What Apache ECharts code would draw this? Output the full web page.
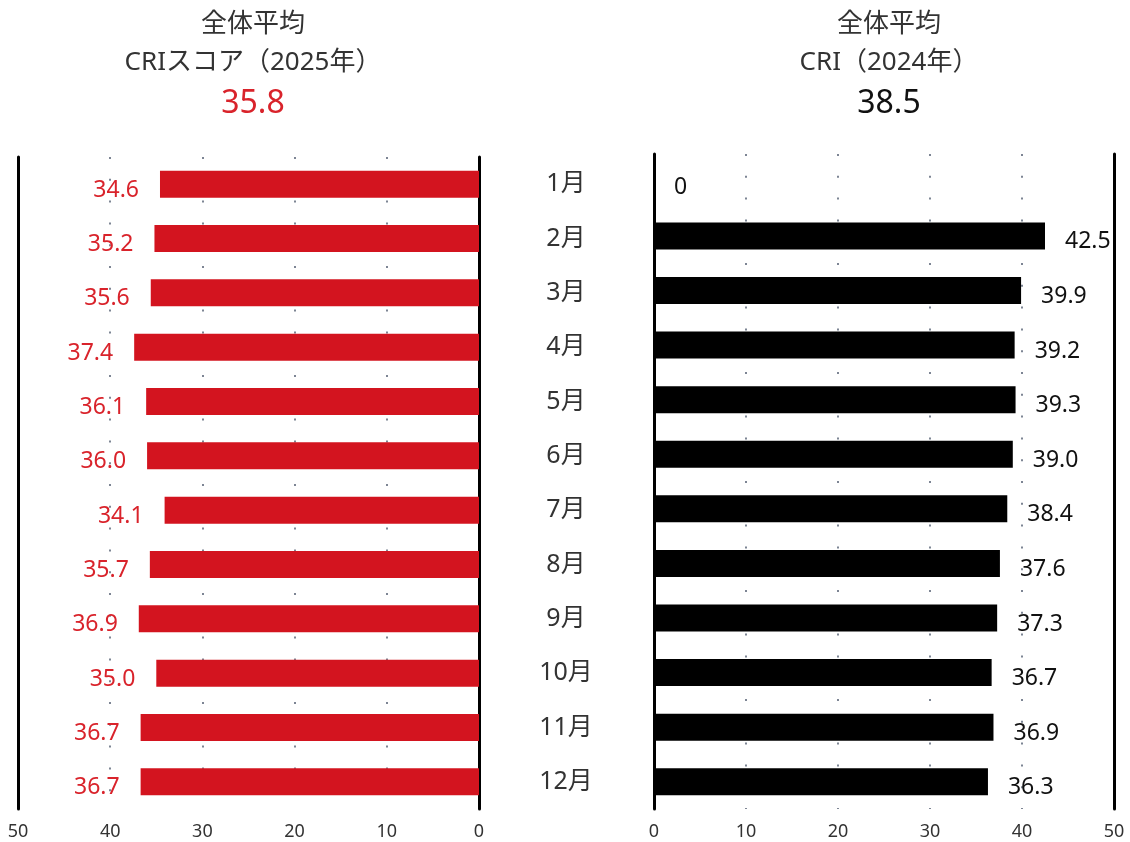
<!DOCTYPE html>
<html>
<head>
<meta charset="utf-8">
<script src="https://cdn.jsdelivr.net/npm/echarts@6/dist/echarts.min.js"></script>
<style>
  html, body { margin: 0; padding: 0; background: #fff; }
  #chart { width: 1130px; height: 842px; }
</style>
</head>
<body>
<div id="chart"></div>
<script>
  // データ
  var months = ['1月', '2月', '3月', '4月', '5月', '6月', '7月', '8月', '9月', '10月', '11月', '12月']
  var cri2025 = [34.6, 35.2, 35.6, 37.4, 36.1, 36.0, 34.1, 35.7, 36.9, 35.0, 36.7, 36.7]
  var cri2024 = [0, 42.5, 39.9, 39.2, 39.3, 39.0, 38.4, 37.6, 37.3, 36.7, 36.9, 36.3]
  var avg2025 = '35.8'
  var avg2024 = '38.5'
  var xTicks = [0, 10, 20, 30, 40, 50]

  var font = '"Noto Sans", "Noto Sans CJK JP", sans-serif'
  var red = '#d3141f'
  var redText = '#d9232b'

  var chart = echarts.init(document.getElementById('chart'))

  function valueAxis (idx, inverse) {
    return {
      type: 'value',
      gridIndex: idx,
      min: xTicks[0],
      max: xTicks[xTicks.length - 1],
      interval: 10,
      inverse: inverse,
      axisLine: { show: false },
      axisTick: { show: false },
      axisLabel: { fontSize: 18, color: '#333', margin: 14, fontFamily: font },
      splitLine: {
        show: true,
        lineStyle: { color: '#7d8594', width: 2, type: [2, 19.8] }
      }
    }
  }

  function edgeAxis (idx, pos, showLabel) {
    return {
      type: 'category',
      gridIndex: idx,
      position: pos,
      inverse: true,
      data: months,
      axisLine: { show: true, onZero: false, lineStyle: { color: '#000', width: 3 } },
      axisTick: { show: false },
      axisLabel: showLabel
        ? { show: true, align: 'center', margin: 87, fontSize: 25, color: '#333', fontFamily: font }
        : { show: false },
      splitLine: { show: false }
    }
  }

  chart.setOption({
    animation: false,
    textStyle: { fontFamily: font },
    title: [
      {
        text: '全体平均\nCRIスコア（2025年）',
        left: 248, top: 1, textAlign: 'center',
        textStyle: { fontSize: 26, lineHeight: 38, fontWeight: 'normal', color: '#333', fontFamily: font }
      },
      {
        text: avg2025,
        left: 248, top: 79, textAlign: 'center',
        textStyle: { fontSize: 32, lineHeight: 40, fontWeight: 'normal', color: redText, fontFamily: font }
      },
      {
        text: '全体平均\nCRI（2024年）',
        left: 884, top: 1, textAlign: 'center',
        textStyle: { fontSize: 26, lineHeight: 38, fontWeight: 'normal', color: '#333', fontFamily: font }
      },
      {
        text: avg2024,
        left: 884, top: 79, textAlign: 'center',
        textStyle: { fontSize: 32, lineHeight: 40, fontWeight: 'normal', color: '#111', fontFamily: font }
      }
    ],
    grid: [
      { left: 18, width: 461, top: 157, height: 652 },
      { left: 654, width: 460, top: 154, height: 655 }
    ],
    xAxis: [valueAxis(0, true), valueAxis(1, false)],
    yAxis: [
      edgeAxis(0, 'right', true),
      edgeAxis(0, 'left', false),
      edgeAxis(1, 'left', false),
      edgeAxis(1, 'right', false)
    ],
    series: [
      {
        type: 'bar',
        xAxisIndex: 0,
        yAxisIndex: 0,
        data: cri2025,
        barWidth: 27,
        itemStyle: { color: red },
        label: {
          show: true, position: 'left', distance: 21, offset: [0, 6],
          fontSize: 23, color: redText, fontFamily: font,
          formatter: function (p) { return p.value.toFixed(1) }
        }
      },
      {
        type: 'bar',
        xAxisIndex: 1,
        yAxisIndex: 2,
        data: cri2024,
        barWidth: 27,
        itemStyle: { color: '#000' },
        label: {
          show: true, position: 'right', distance: 20, offset: [0, 6],
          fontSize: 23, color: '#111', fontFamily: font,
          formatter: function (p) { return p.value === 0 ? '0' : p.value.toFixed(1) }
        }
      }
    ]
  })
</script>
</body>
</html>
